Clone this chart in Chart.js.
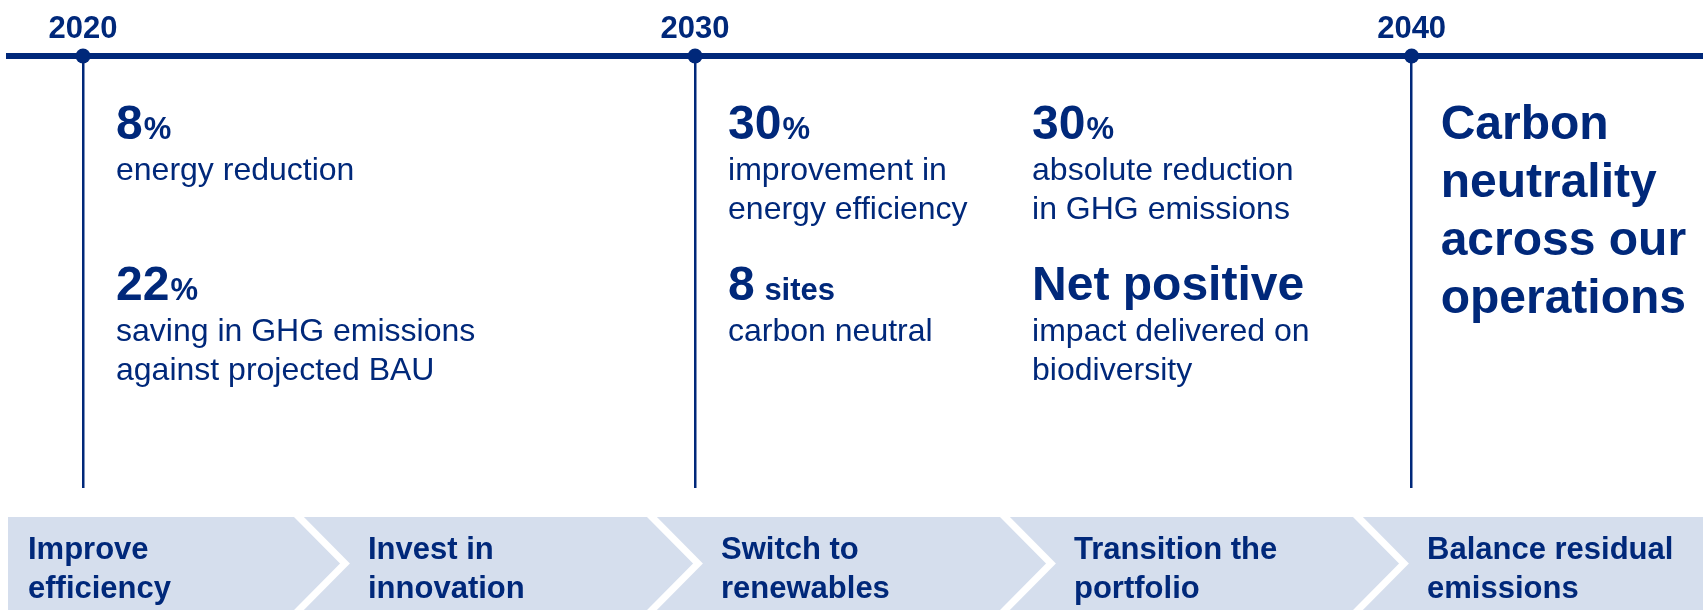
<!DOCTYPE html>
<html>
<head>
<meta charset="utf-8">
<title>Carbon roadmap</title>
<script src="https://cdn.jsdelivr.net/npm/chart.js@4.4.1/dist/chart.umd.min.js"></script>
<style>
  body { margin: 0; background: #ffffff; }
  canvas { display: block; }
</style>
</head>
<body>
<canvas id="roadmap" width="1703" height="610"></canvas>
<script>
// milestones on the timeline
const milestoneYears = [2020, 2030, 2040];

// targets listed under each milestone
const targetYears   = [2020, 2020, 2030, 2030, 2030, 2030, 2040];
const targetColumns = [0, 0, 0, 0, 1, 1, 0];
const targetRows    = [0, 1, 0, 1, 0, 1, 0];
const targetValues  = ['8', '22', '30', '8', '30', 'Net positive', 'Carbon\nneutrality\nacross our\noperations'];
const targetUnits   = ['%', '%', '%', ' sites', '%', '', ''];
const targetLabels  = [
    'energy reduction',
    'saving in GHG emissions\nagainst projected BAU',
    'improvement in\nenergy efficiency',
    'carbon neutral',
    'absolute reduction\nin GHG emissions',
    'impact delivered on\nbiodiversity',
    ''
];

// phases in the bottom band
const phaseLabels = ['Improve\nefficiency', 'Invest in\ninnovation', 'Switch to\nrenewables', 'Transition the\nportfolio', 'Balance residual\nemissions'];

const NAVY = '#00287a';
const BAND = '#d5deed';
const FONT = '"Liberation Sans", Arial, sans-serif';

// the timeline is schematic, so years are placed piecewise between anchors
class TimelineScale extends Chart.LinearScale {
    getPixelForValue(value) {
        const a = this.options.anchors;
        let i = 1;
        while (i < a.length - 1 && value > a[i][0]) i++;
        const v0 = a[i - 1][0], d0 = a[i - 1][1];
        const v1 = a[i][0], d1 = a[i][1];
        return this.getPixelForDecimal(d0 + (value - v0) * (d1 - d0) / (v1 - v0));
    }
}
TimelineScale.id = 'timeline';
TimelineScale.defaults = Chart.LinearScale.defaults;
Chart.register(TimelineScale);

const roadmapText = {
    id: 'roadmapText',
    afterDraw(chart) {
        const ctx = chart.ctx;
        const xs = chart.scales.x;
        const rowBase = [139, 300];
        ctx.save();
        ctx.fillStyle = NAVY;
        ctx.textAlign = 'left';
        ctx.textBaseline = 'alphabetic';

        targetValues.forEach((value, i) => {
            const lines = value.split('\n');
            const gap = lines.length > 1 ? 29 : 33;
            const left = xs.getPixelForValue(targetYears[i]) + gap + targetColumns[i] * 304;
            const base = rowBase[targetRows[i]];
            ctx.font = 'bold 48px ' + FONT;
            lines.forEach((line, k) => ctx.fillText(line, left, base + k * 58));
            if (targetUnits[i]) {
                const w = ctx.measureText(lines[0]).width;
                ctx.font = 'bold 31px ' + FONT;
                ctx.fillText(targetUnits[i], left + w + 1, base);
            }
            if (targetLabels[i]) {
                ctx.font = '32px ' + FONT;
                targetLabels[i].split('\n').forEach((line, k) => {
                    ctx.fillText(line, left, base + 41 + k * 39);
                });
            }
        });

        // bottom band with chevrons
        const top = 517, bottom = chart.height, left = 8;
        const first = 295, step = 353, tip = 50;
        ctx.fillStyle = BAND;
        ctx.fillRect(left, top, chart.width - left, bottom - top);
        ctx.strokeStyle = '#ffffff';
        ctx.lineWidth = 7;
        ctx.lineJoin = 'miter';
        for (let k = 0; k < phaseLabels.length - 1; k++) {
            const cx = first + k * step;
            ctx.beginPath();
            ctx.moveTo(cx, top - 4);
            ctx.lineTo(cx + tip, (top + bottom) / 2);
            ctx.lineTo(cx, bottom + 4);
            ctx.stroke();
        }
        ctx.fillStyle = NAVY;
        ctx.font = 'bold 31px ' + FONT;
        phaseLabels.forEach((label, k) => {
            const lx = k === 0 ? 28 : first + (k - 1) * step + 73;
            label.split('\n').forEach((line, j) => ctx.fillText(line, lx, 559 + j * 39));
        });
        ctx.restore();
    }
};

const ctx = document.getElementById('roadmap');
new Chart(ctx, {
    type: 'scatter',
    data: {
        datasets: [{
            data: milestoneYears.map(y => ({ x: y, y: 1 })),
            pointRadius: 7.5,
            pointBackgroundColor: NAVY,
            pointBorderWidth: 0,
            clip: false
        }]
    },
    options: {
        responsive: false,
        animation: false,
        events: [],
        layout: { autoPadding: false, padding: { left: 9, right: 0, top: 0, bottom: 122 } },
        plugins: {
            legend: { display: false },
            tooltip: { enabled: false }
        },
        scales: {
            x: {
                type: 'timeline',
                position: 'top',
                anchors: [[2020, 0.0437], [2030, 0.405], [2040, 0.828]],
                afterBuildTicks: (scale) => {
                    scale.ticks = milestoneYears.map(v => ({ value: v }));
                },
                afterFit: (scale) => {
                    scale.height = 56;
                    scale.paddingLeft = 0;
                    scale.paddingRight = 0;
                },
                grid: { color: NAVY, lineWidth: 2.5, drawTicks: false },
                border: { display: true, color: NAVY, width: 6 },
                ticks: {
                    color: NAVY,
                    padding: 8,
                    maxRotation: 0,
                    autoSkip: false,
                    font: { family: FONT, size: 31, weight: 'bold' },
                    callback: (v) => String(v)
                }
            },
            y: { display: false, min: 0, max: 1 }
        }
    },
    plugins: [roadmapText]
});
</script>
</body>
</html>
